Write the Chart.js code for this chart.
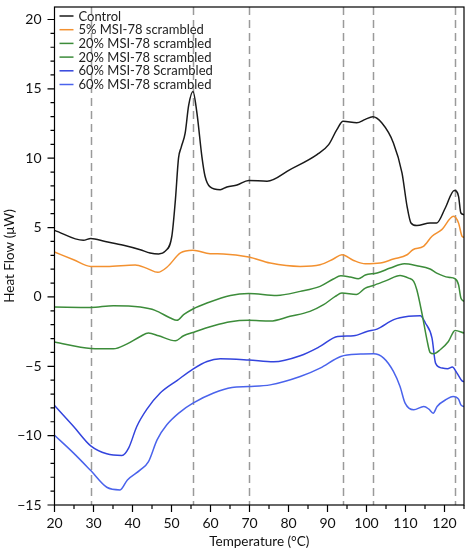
<!DOCTYPE html>
<html>
<head>
<meta charset="utf-8">
<script src="https://cdn.jsdelivr.net/npm/chart.js@4"></script>
<style>
  html, body { margin: 0; padding: 0; background: #fff; }
  #wrap { width: 469px; height: 555px; }
</style>
</head>
<body>
<div id="wrap"><canvas id="dsc"></canvas></div>
<script>
'use strict';

// series
var seriesLabels = ['Control', '5% MSI-78 scrambled', '20% MSI-78 scrambled', '20% MSI-78 scrambled', '60% MSI-78 Scrambled', '60% MSI-78 scrambled'];
var seriesColors = ['#1a1a1a', '#F39130', '#3C8C3A', '#3C8C3A', '#3344DD', '#4A63EC'];

var tControl = [20, 27.4, 29.3, 33, 37.7, 42, 44.5, 46.7, 48.4, 50.1, 51, 51.8, 52.5, 53.5, 54.4, 55.5, 56.5, 57.8, 58.6, 59.9, 62.5, 64.2, 66.8, 69.8, 74.5, 80.4, 87.3, 90.3, 92.4, 94, 97.5, 99.7, 101.6, 103.9, 106.9, 109.1, 110.4, 111.4, 112.9, 116.3, 118, 120.2, 122.5, 123.6, 124.2, 125];
var hfControl = [4.8, 4.08, 4.22, 4.0, 3.72, 3.4, 3.17, 3.1, 3.3, 4.4, 7.0, 10.0, 10.8, 11.8, 13.8, 14.8, 13.3, 10.1, 8.7, 7.93, 7.73, 7.93, 8.07, 8.4, 8.34, 9.18, 10.26, 10.98, 12.06, 12.66, 12.55, 12.8, 12.98, 12.55, 11.1, 8.94, 6.53, 5.33, 5.14, 5.33, 5.33, 6.41, 7.68, 7.25, 6.05, 5.93];

var t5 = [20, 24.9, 29.3, 33.4, 40.7, 43.7, 46.5, 48.9, 52.3, 55.5, 59.9, 63.3, 69.8, 75.3, 83, 88.1, 91.5, 93.7, 96.7, 99.7, 103.5, 106.9, 110.4, 111.9, 114.6, 116.8, 119.3, 122.3, 123.6, 124.5, 125];
var hf5 = [3.24, 2.68, 2.2, 2.2, 2.3, 2.06, 1.77, 2.16, 3.17, 3.36, 3.12, 3.1, 2.88, 2.44, 2.2, 2.32, 2.73, 3.04, 2.63, 2.39, 2.44, 2.73, 3.04, 3.4, 3.64, 4.37, 4.85, 5.81, 5.33, 4.37, 4.3];

var t20a = [20, 29.3, 35.1, 42, 45.8, 49.7, 51.4, 53.1, 55.5, 59.1, 65.1, 69.8, 77, 83, 88.1, 91.5, 93.4, 95.8, 97.9, 99.7, 102.7, 106.1, 109.7, 112.9, 116.3, 118, 121, 122.7, 123.6, 124.2, 125];
var hf20a = [-0.73, -0.76, -0.63, -0.73, -0.97, -1.52, -1.69, -1.28, -0.87, -0.44, 0.11, 0.25, 0.11, 0.4, 0.76, 1.29, 1.53, 1.44, 1.31, 1.58, 1.72, 2.08, 2.39, 2.25, 2.01, 1.72, 1.41, 1.31, 0.88, -0.08, -0.32];

var t20b = [20, 29.3, 35.1, 38.5, 42, 44.1, 46.7, 51, 53.1, 55.5, 60.8, 65.1, 69.8, 75.3, 80.4, 85.5, 89, 92, 93.7, 97.4, 99.7, 101.6, 105.2, 108.6, 110.8, 112.1, 112.9, 114.2, 115.5, 116.3, 117.2, 118.9, 121, 122.7, 125];
var hf20b = [-3.25, -3.71, -3.74, -3.4, -2.85, -2.6, -2.8, -3.16, -2.8, -2.56, -2.08, -1.79, -1.69, -1.74, -1.4, -1.04, -0.56, 0.04, 0.28, 0.18, 0.64, 0.81, 1.19, 1.55, 1.36, 1.12, 0.52, -1.16, -3.09, -4.0, -4.1, -3.81, -3.21, -2.42, -2.6];

var t60a = [20, 24.9, 29.3, 33.4, 37.3, 39, 41.1, 43.7, 47.1, 51.4, 55.5, 59.1, 62.5, 69.8, 76.2, 83, 88.1, 92.6, 96.7, 100.1, 102.7, 107, 110.8, 113.8, 115.1, 116.8, 117.7, 119.4, 120.8, 122, 123.2, 124.5, 125];
var hf60a = [-7.83, -9.34, -10.74, -11.31, -11.43, -10.9, -9.34, -8.09, -6.93, -6.03, -5.2, -4.65, -4.46, -4.55, -4.68, -4.24, -3.57, -2.85, -2.8, -2.49, -2.32, -1.64, -1.4, -1.36, -1.88, -2.97, -4.77, -5.13, -5.18, -5.06, -5.49, -6.05, -6.1];

var t60b = [20, 24.9, 29.3, 33.4, 36.8, 38.7, 42, 44.1, 46.3, 48.8, 52.2, 55.5, 60.8, 65.5, 69.8, 75.3, 83, 88.1, 93.4, 98.5, 101.8, 104.4, 106.9, 108.6, 109.9, 112.1, 114.7, 116, 117.1, 118.1, 120.6, 122.2, 123.6, 124.2, 125];
var hf60b = [-9.97, -11.26, -12.52, -13.72, -13.91, -13.19, -12.47, -11.87, -10.3, -9.22, -8.3, -7.66, -6.93, -6.53, -6.46, -6.34, -5.74, -5.13, -4.29, -4.12, -4.1, -4.41, -5.37, -6.46, -7.66, -8.14, -7.9, -8.09, -8.38, -7.9, -7.37, -7.18, -7.37, -7.78, -7.9];

// dashed transition markers (°C)
var markerTemps = [29.4, 55.5, 69.8, 94.0, 101.6, 122.6];

var xTicks = [20, 30, 40, 50, 60, 70, 80, 90, 100, 110, 120];
var yTicks = [-15, -10, -5, 0, 5, 10, 15, 20];

var seriesT = [tControl, t5, t20a, t20b, t60a, t60b];
var seriesHF = [hfControl, hf5, hf20a, hf20b, hf60a, hf60b];

var FONT = 'Lato, "Open Sans", sans-serif';

function pts(ts, vs) {
  return ts.map(function (t, i) { return { x: t, y: vs[i] }; });
}

var markerPlugin = {
  id: 'markers',
  beforeDatasetsDraw: function (chart) {
    var ctx = chart.ctx, a = chart.chartArea, xs = chart.scales.x;
    ctx.save();
    ctx.strokeStyle = '#9a9a9a';
    ctx.lineWidth = 1.5;
    ctx.setLineDash([8, 5]);
    markerTemps.forEach(function (t) {
      var px = Math.round(xs.getPixelForValue(t)) + 0.5;
      ctx.beginPath();
      ctx.moveTo(px, a.top);
      ctx.lineTo(px, a.bottom);
      ctx.stroke();
    });
    ctx.restore();
  }
};

var framePlugin = {
  id: 'frame',
  afterDraw: function (chart) {
    var ctx = chart.ctx, a = chart.chartArea;
    var xs = chart.scales.x, ys = chart.scales.y;
    ctx.save();
    ctx.strokeStyle = '#000';
    ctx.lineWidth = 1.2;
    ctx.strokeRect(a.left, a.top, a.right - a.left, a.bottom - a.top);
    ctx.beginPath();
    var v, p;
    for (v = 20; v <= 125; v += 5) {
      p = xs.getPixelForValue(v);
      ctx.moveTo(p, a.bottom);
      ctx.lineTo(p, a.bottom + (v % 10 === 0 ? 7 : 4));
    }
    for (v = -15; v <= 20; v += 1) {
      p = ys.getPixelForValue(v);
      ctx.moveTo(a.left, p);
      ctx.lineTo(a.left - (v % 5 === 0 ? 7 : 4), p);
    }
    ctx.stroke();

    // legend, inside the top-left of the plot
    ctx.font = '13px ' + FONT;
    ctx.textBaseline = 'middle';
    chart.data.datasets.forEach(function (ds, i) {
      var y = a.top + 9 + i * 13.7;
      ctx.strokeStyle = ds.borderColor;
      ctx.lineWidth = 1.5;
      ctx.beginPath();
      ctx.moveTo(a.left + 5, y);
      ctx.lineTo(a.left + 19, y);
      ctx.stroke();
      ctx.fillStyle = '#222';
      ctx.fillText(ds.label, a.left + 24, y + 0.5);
    });
    ctx.restore();
  }
};

new Chart(document.getElementById('dsc'), {
  type: 'line',
  data: {
    datasets: seriesLabels.map(function (lbl, i) {
      return {
        label: lbl,
        data: pts(seriesT[i], seriesHF[i]),
        borderColor: seriesColors[i],
        borderWidth: 1.5,
        pointRadius: 0,
        fill: false,
        cubicInterpolationMode: 'monotone'
      };
    })
  },
  options: {
    responsive: true,
    maintainAspectRatio: false,
    animation: false,
    layout: { padding: { top: 7, right: 5, left: 0, bottom: 0 } },
    plugins: { legend: { display: false }, tooltip: { enabled: false } },
    scales: {
      x: {
        type: 'linear',
        min: 20,
        max: 125,
        afterBuildTicks: function (s) { s.ticks = xTicks.map(function (v) { return { value: v }; }); },
        afterFit: function (s) { s.height = 50; s.paddingLeft = 0; s.paddingRight = 0; },
        grid: { display: false, drawTicks: false },
        border: { display: false },
        ticks: { color: '#111', padding: 10, font: { family: FONT, size: 14 }, maxRotation: 0 },
        title: { display: true, text: 'Temperature (°C)', color: '#111', font: { family: FONT, size: 13.5 }, padding: { top: 0, bottom: 5 } }
      },
      y: {
        min: -15,
        max: 20.9,
        afterBuildTicks: function (s) { s.ticks = yTicks.map(function (v) { return { value: v }; }); },
        afterFit: function (s) { s.width = 54.5; s.paddingTop = 0; s.paddingBottom = 0; },
        grid: { display: false, drawTicks: false },
        border: { display: false },
        ticks: {
          color: '#111', padding: 13, font: { family: FONT, size: 14 },
          callback: function (v) { return v < 0 ? '\u2212' + Math.abs(v) : String(v); }
        },
        title: { display: true, text: 'Heat Flow (\u03BCW)', color: '#111', font: { family: FONT, size: 13.5 }, padding: { top: 2, bottom: 0 } }
      }
    }
  },
  plugins: [markerPlugin, framePlugin]
});
</script>
</body>
</html>
